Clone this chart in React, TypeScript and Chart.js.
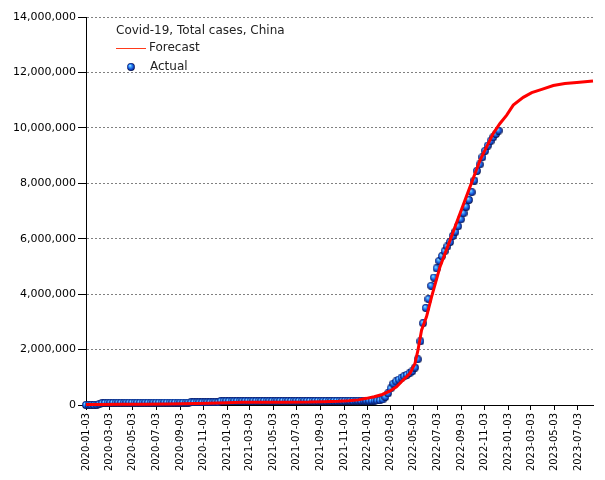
import React, { useEffect, useRef } from "react";
import { Chart, registerables } from "chart.js";

Chart.register(...registerables);

const chartTitle = "Covid-19, Total cases, China";
const seriesNames = ["Forecast", "Actual"];

const xAxisStart = "2020-01-03";
const xAxisEnd = "2023-08-11";
const xTickLabels = [
  "2020-01-03", "2020-03-03", "2020-05-03", "2020-07-03", "2020-09-03", "2020-11-03",
  "2021-01-03", "2021-03-03", "2021-05-03", "2021-07-03", "2021-09-03", "2021-11-03",
  "2022-01-03", "2022-03-03", "2022-05-03", "2022-07-03", "2022-09-03", "2022-11-03",
  "2023-01-03", "2023-03-03", "2023-05-03", "2023-07-03",
];
const yTicks = [0, 2000000, 4000000, 6000000, 8000000, 10000000, 12000000, 14000000];

const forecastDates = [
  "2020-01-03", "2020-02-03", "2020-04-03", "2020-06-03", "2020-08-03", "2020-09-10",
  "2020-11-15", "2021-01-03", "2021-02-10", "2021-04-03", "2021-06-03", "2021-08-03",
  "2021-09-10", "2021-10-20", "2021-11-15", "2021-12-10", "2021-12-31", "2022-01-20",
  "2022-02-10", "2022-03-01", "2022-03-19", "2022-04-05", "2022-04-23", "2022-05-06",
  "2022-05-14", "2022-05-23", "2022-06-05", "2022-06-18", "2022-07-10", "2022-08-05",
  "2022-08-31", "2022-09-26", "2022-10-22", "2022-11-25", "2022-12-12", "2022-12-30",
  "2023-01-16", "2023-02-11", "2023-03-05", "2023-03-31", "2023-04-30", "2023-05-30",
  "2023-06-30", "2023-08-11",
];
const forecastValues = [
  15000, 22000, 26000, 28000, 32000, 45000,
  65000, 80000, 95000, 98000, 100000, 105000,
  120000, 135000, 155000, 185000, 240000, 300000,
  380000, 500000, 660000, 900000, 1140000, 1500000,
  2000000, 2700000, 3190000, 3900000, 4990000, 5950000,
  6920000, 7880000, 8840000, 9800000, 10150000, 10460000,
  10820000, 11100000, 11270000, 11390000, 11530000, 11600000,
  11640000, 11690000,
];

// weekly observations starting at actualStartDate
const actualStartDate = "2020-01-03";
const actualStepDays = 7;
const actualValues = [
  0, 40, 60, 900, 9700, 34600, 64000, 75500, 79000, 80700,
  81000, 81300, 81600, 82000, 82800, 83800, 83900, 84000, 84100, 84200,
  84200, 84300, 84600, 85000, 85400, 85900, 86500, 87200, 87800, 88200,
  88400, 88600, 88700, 89000, 89200, 89300, 89600, 89800, 90000, 90300,
  90600, 91000, 91200, 91600, 91900, 92100, 92500, 92800, 93100, 93500,
  135000, 135400, 136000, 136500, 137000, 137200, 137600, 137900, 138300, 138500,
  138800, 139000, 139400, 139700, 140000, 140300, 140500, 140900, 141200, 141500,
  141800, 142000, 142400, 142700, 143000, 143200, 143600, 143900, 144200, 144500,
  144800, 145000, 145400, 145700, 146000, 146400, 146800, 147100, 147600, 148000,
  148400, 148700, 149200, 149600, 150000, 150500, 151000, 151400, 152000, 152600,
  153200, 153800, 154500, 155100, 156000, 157000, 158500, 160500, 164000, 172000,
  200000, 290000, 420000, 600000, 770000, 850000, 920000, 990000, 1040000, 1090000,
  1150000, 1220000, 1350000, 1650000,
  2300000, 2950000, 3500000, 3820000, 4300000, 4600000, 4930000, 5200000, 5370000, 5550000,
  5720000, 5880000, 6100000, 6250000, 6450000, 6700000, 6920000, 7150000, 7400000, 7680000,
  8100000, 8450000, 8680000, 8940000, 9170000, 9360000, 9520000, 9660000, 9780000, 9900000,
];

function dayIndex(s: string): number {
  const [y, m, d] = s.split("-").map(Number);
  const [y0, m0, d0] = xAxisStart.split("-").map(Number);
  return Math.round((Date.UTC(y, m - 1, d) - Date.UTC(y0, m0 - 1, d0)) / 86400000);
}

function makeSphere(size: number): HTMLCanvasElement {
  const c = document.createElement("canvas");
  c.width = size;
  c.height = size;
  const g = c.getContext("2d")!;
  const r = size / 2;
  const grad = g.createRadialGradient(r * 0.72, r * 0.62, 0, r, r, r);
  grad.addColorStop(0, "#d2f6ff");
  grad.addColorStop(0.25, "#4ab4ff");
  grad.addColorStop(0.6, "#1a5ce0");
  grad.addColorStop(0.85, "#0a2a90");
  grad.addColorStop(1, "#03082e");
  g.fillStyle = grad;
  g.beginPath();
  g.arc(r, r, r - 0.1, 0, Math.PI * 2);
  g.fill();
  return c;
}

export default function App() {
  const canvasRef = useRef<HTMLCanvasElement | null>(null);

  useEffect(() => {
    const canvas = canvasRef.current;
    if (!canvas) return;
    const sphere = makeSphere(8);
    const labelByDay = new Map<number, string>();
    xTickLabels.forEach((l) => labelByDay.set(dayIndex(l), l));

    const forecastData = forecastDates.map((d, i) => ({ x: dayIndex(d), y: forecastValues[i] }));
    const start = dayIndex(actualStartDate);
    const actualData = actualValues.map((v, i) => ({ x: start + i * actualStepDays, y: v }));

    const legendPlugin = {
      id: "insideLegend",
      afterDraw(chart: any) {
        const { ctx, chartArea } = chart;
        const lx = chartArea.left + 30;
        const ty = chartArea.top + 14;
        ctx.save();
        ctx.font = "12px 'DejaVu Sans'";
        ctx.fillStyle = "#222222";
        ctx.textAlign = "left";
        ctx.textBaseline = "middle";
        ctx.fillText(chartTitle, lx, ty);
        ctx.strokeStyle = "#ff3a1a";
        ctx.lineWidth = 1;
        ctx.beginPath();
        ctx.moveTo(lx, ty + 17.5);
        ctx.lineTo(lx + 30, ty + 17.5);
        ctx.stroke();
        ctx.fillText(seriesNames[0], lx + 33, ty + 17);
        ctx.drawImage(sphere, lx + 15 - 4, ty + 36 - 4);
        ctx.fillText(seriesNames[1], lx + 34, ty + 35.5);
        ctx.restore();
      },
    };

    const chart = new Chart(canvas, {
      type: "line",
      data: {
        datasets: [
          {
            label: seriesNames[0],
            data: forecastData,
            borderColor: "#ff0000",
            backgroundColor: "#ff0000",
            borderWidth: 3,
            pointRadius: 0,
            tension: 0,
            fill: false,
            clip: false as any,
          },
          {
            label: seriesNames[1],
            data: actualData,
            showLine: false,
            pointStyle: sphere as any,
            pointRadius: 4,
            clip: false as any,
          },
        ],
      },
      options: {
        responsive: false,
        animation: false,
        events: [],
        devicePixelRatio: 1,
        layout: { padding: { top: 17, right: 12, left: 0, bottom: 0 } },
        plugins: {
          legend: { display: false },
          tooltip: { enabled: false },
          title: { display: false },
        },
        scales: {
          x: {
            type: "linear",
            min: dayIndex(xAxisStart),
            max: dayIndex(xAxisEnd),
            afterBuildTicks: (scale: any) => {
              scale.ticks = xTickLabels.map((l) => ({ value: dayIndex(l) }));
            },
            afterFit: (scale: any) => {
              scale.height = 75;
            },
            grid: {
              drawOnChartArea: false,
              drawTicks: true,
              tickLength: 5,
              color: "#000000",
            },
            border: { display: true, color: "#000000", width: 1 },
            ticks: {
              autoSkip: false,
              minRotation: 90,
              maxRotation: 90,
              padding: 3,
              color: "#000000",
              font: { family: "'DejaVu Sans'", size: 10 },
              callback: (v: any) => labelByDay.get(Number(v)) ?? "",
            },
          },
          y: {
            type: "linear",
            min: yTicks[0],
            max: yTicks[yTicks.length - 1],
            afterBuildTicks: (scale: any) => {
              scale.ticks = yTicks.map((v) => ({ value: v }));
            },
            afterFit: (scale: any) => {
              scale.width = 86;
            },
            grid: {
              color: (c: any) => (c.tick && c.tick.value === 0 ? "rgba(0,0,0,0)" : "#808080"),
              tickColor: "#000000",
              tickLength: 8,
              tickBorderDash: [],
            } as any,
            border: { display: true, color: "#000000", width: 1, dash: [2, 2] },
            ticks: {
              padding: 2,
              color: "#000000",
              font: { family: "'DejaVu Sans'", size: 11 },
              callback: (v: any) => Number(v).toLocaleString("en-US"),
            },
          },
        },
      },
      plugins: [legendPlugin],
    } as any);

    return () => chart.destroy();
  }, []);

  return (
    <div style={{ position: "absolute", left: 0, top: 0, width: 605, height: 480, background: "#ffffff" }}>
      <canvas ref={canvasRef} width={605} height={480} style={{ width: 605, height: 480, display: "block" }} />
    </div>
  );
}
